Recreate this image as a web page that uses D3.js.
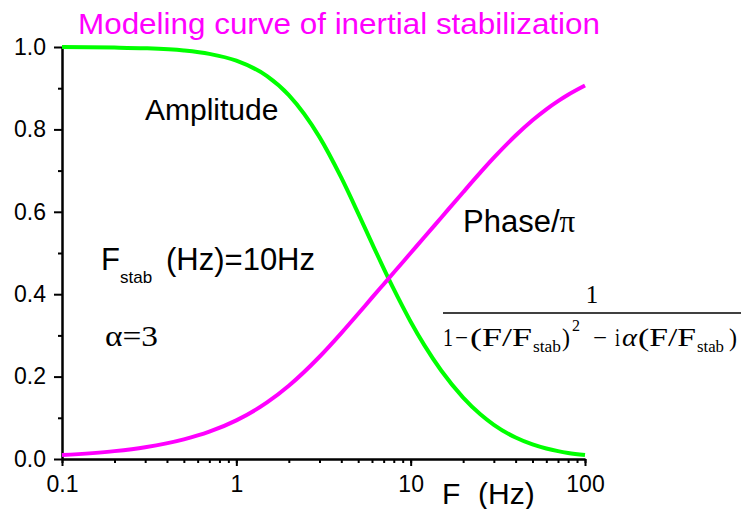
<!DOCTYPE html>
<html>
<head>
<meta charset="utf-8">
<script src="https://cdn.jsdelivr.net/npm/d3@7"></script>
<style>
  body { margin: 0; background: #fff; }
  svg { display: block; }
  text { font-family: 'Liberation Sans', Arial, sans-serif; }
  .serif { font-family: 'Liberation Serif', 'Times New Roman', serif; }
  .axis path, .axis line { stroke: #000; stroke-width: 2; }
  .axis text { font-size: 23px; fill: #000; }
</style>
</head>
<body>
<svg width="745" height="509"></svg>
<script>
// values (F in Hz)
var freqHz = [0.1, 0.2, 0.3, 0.5, 0.7, 1, 1.5, 2, 3, 4, 5, 6, 7, 8, 10, 12, 15, 20, 25, 30, 40, 50, 60, 70, 80, 100];
var amplitude = [0.9997, 0.9986, 0.9969, 0.9914, 0.9833, 0.9667, 0.9293, 0.8833, 0.7813, 0.6827, 0.5963, 0.5234,
    0.4627, 0.4121, 0.3333, 0.2757, 0.2141, 0.1491, 0.1092, 0.0830, 0.0521, 0.0353, 0.0254, 0.0191, 0.0148, 0.0097];
var phase = [0.0096, 0.0191, 0.0286, 0.0475, 0.0662, 0.0937, 0.1373, 0.1778, 0.2482, 0.3056, 0.3524, 0.3916,
    0.4243, 0.4526, 0.5, 0.5387, 0.5863, 0.6476, 0.6944, 0.7313, 0.7852, 0.8222, 0.8488, 0.8687, 0.8841, 0.9065];

var xMajorTicks = [0.1, 1, 10, 100];
var xTickLabels = ['0.1', '1', '10', '100'];
var yMajorTicks = [0, 0.2, 0.4, 0.6, 0.8, 1.0];
var yMinorTicks = [0.1, 0.3, 0.5, 0.7, 0.9];

var svg = d3.select('svg');

var xScale = d3.scaleLog().domain([0.1, 100]).range([62, 585]);
var yScale = d3.scaleLinear().domain([0, 1]).range([459, 47]);

// minor ticks first, majors with labels on top
svg.append('g')
    .attr('class', 'axis')
    .attr('transform', 'translate(0,' + yScale(0) + ')')
    .call(d3.axisBottom(xScale).tickValues(xScale.ticks()).tickSize(4).tickSizeOuter(0).tickFormat(''));

svg.append('g')
    .attr('class', 'axis')
    .attr('transform', 'translate(0,' + yScale(0) + ')')
    .call(d3.axisBottom(xScale).tickValues(xMajorTicks).tickSize(7).tickSizeOuter(0).tickPadding(10)
        .tickFormat(function (d, i) { return xTickLabels[i]; }));

svg.append('g')
    .attr('class', 'axis')
    .attr('transform', 'translate(' + xScale(0.1) + ',0)')
    .call(d3.axisLeft(yScale).tickValues(yMinorTicks).tickSize(4).tickSizeOuter(0).tickFormat(''));

svg.append('g')
    .attr('class', 'axis')
    .attr('transform', 'translate(' + xScale(0.1) + ',0)')
    .call(d3.axisLeft(yScale).tickValues(yMajorTicks).tickSize(8).tickSizeOuter(0).tickPadding(8)
        .tickFormat(d3.format('.1f')));

var line = d3.line()
    .x(function (d) { return xScale(d[0]); })
    .y(function (d) { return yScale(d[1]); })
    .curve(d3.curveMonotoneX);

svg.append('path')
    .datum(d3.zip(freqHz, amplitude))
    .attr('d', line)
    .attr('fill', 'none')
    .attr('stroke', '#00ff00')
    .attr('stroke-width', 4);

svg.append('path')
    .datum(d3.zip(freqHz, phase))
    .attr('d', line)
    .attr('fill', 'none')
    .attr('stroke', '#ff00ff')
    .attr('stroke-width', 4);

// title
svg.append('text')
    .attr('x', 78).attr('y', 33.5)
    .attr('font-size', 29)
    .attr('fill', '#ff00ff')
    .attr('textLength', 522)
    .attr('lengthAdjust', 'spacingAndGlyphs')
    .text('Modeling curve of inertial stabilization');

// x axis title
svg.append('text').attr('x', 442).attr('y', 504).attr('font-size', 30).text('F');
svg.append('text').attr('x', 478).attr('y', 504).attr('font-size', 30).text('(Hz)');

// annotations
svg.append('text').attr('x', 145).attr('y', 120).attr('font-size', 30).text('Amplitude');

var ph = svg.append('text').attr('x', 463).attr('y', 231.5).attr('font-size', 31);
ph.append('tspan').text('Phase/');
ph.append('tspan').attr('class', 'serif').text('π');

svg.append('text').attr('x', 101).attr('y', 270).attr('font-size', 31).text('F');
svg.append('text').attr('x', 120).attr('y', 283).attr('font-size', 17).text('stab');
svg.append('text').attr('x', 166).attr('y', 270).attr('font-size', 31).text('(Hz)=10Hz');

svg.append('text').attr('class', 'serif').attr('x', 105).attr('y', 346).attr('font-size', 30)
    .attr('textLength', 53).attr('lengthAdjust', 'spacingAndGlyphs').text('α=3');

// transfer function
var fg = svg.append('g');
fg.append('text').attr('class', 'serif').attr('x', 592).attr('y', 303).attr('font-size', 25)
    .attr('text-anchor', 'middle').text('1');
fg.append('line').attr('x1', 443).attr('x2', 741).attr('y1', 313).attr('y2', 313)
    .attr('stroke', '#000').attr('stroke-width', 1.5);
var den = [
    { t: '1', x: 443, y: 346, s: 25, w: 10 },
    { t: '−', x: 455, y: 346, s: 25, w: 13 },
    { t: '(F/F', x: 470, y: 346, s: 25, w: 62 },
    { t: 'stab', x: 533, y: 352, s: 16, w: 28 },
    { t: ')', x: 562, y: 346, s: 25, w: 8 },
    { t: '2', x: 572, y: 331, s: 16, w: 8 },
    { t: '−', x: 593, y: 346, s: 25, w: 14 },
    { t: 'i', x: 615, y: 346, s: 25, w: 5 },
    { t: 'α', x: 622, y: 346, s: 25, w: 15, it: true },
    { t: '(F/F', x: 638, y: 346, s: 25, w: 58 },
    { t: 'stab', x: 697, y: 352, s: 16, w: 27 },
    { t: ')', x: 729, y: 346, s: 25, w: 8 }
];
fg.selectAll('text.den')
    .data(den)
    .enter()
    .append('text')
    .attr('class', 'serif den')
    .attr('x', function (d) { return d.x; })
    .attr('y', function (d) { return d.y; })
    .attr('font-size', function (d) { return d.s; })
    .attr('font-style', function (d) { return d.it ? 'italic' : 'normal'; })
    .attr('textLength', function (d) { return d.w; })
    .attr('lengthAdjust', 'spacingAndGlyphs')
    .text(function (d) { return d.t; });
</script>
</body>
</html>
